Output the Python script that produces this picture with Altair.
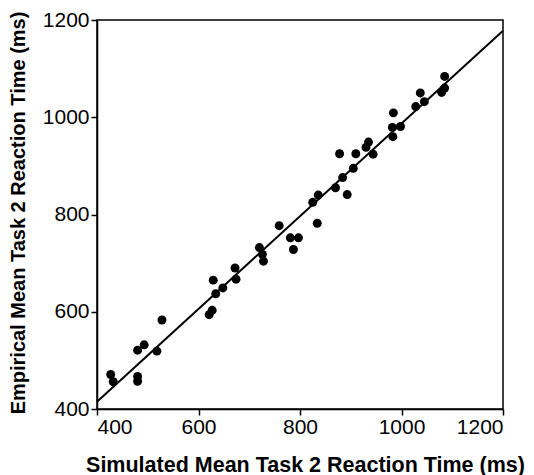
import altair as alt
import pandas as pd

# Simulated (x) vs empirical (y) mean Task 2 RT, ms
sim_rt = [427, 432, 480, 480, 480, 493, 518, 528, 621, 627, 629, 634, 648, 672, 674,
          720, 726, 728, 759, 781, 797, 787, 825, 836, 834, 870, 884, 893, 878, 905,
          910, 930, 935, 944, 984, 982, 983, 998, 1028, 1037, 1045, 1079, 1085, 1085]
emp_rt = [471, 456, 467, 457, 521, 532, 519, 583, 594, 603, 665, 637, 649, 690, 667,
          732, 718, 704, 777, 752, 752, 728, 825, 840, 782, 855, 876, 841, 925, 895,
          925, 938, 949, 924, 1009, 979, 960, 981, 1022, 1050, 1032, 1051, 1084, 1060]

fit_x = [400, 1200]
fit_y = [415, 1178]

ticks = [400, 600, 800, 1000, 1200]

pts = pd.DataFrame({"sim": sim_rt, "emp": emp_rt})
fit = pd.DataFrame({"sim": fit_x, "emp": fit_y})

W, H = 406, 389
FONT = "Liberation Sans"

xscale = alt.Scale(domain=[400, 1200], nice=False, zero=False)
yscale = alt.Scale(domain=[400, 1200], nice=False, zero=False)

xaxis = alt.Axis(values=ticks, format="d", grid=False, domainColor="black", domainWidth=1.5,
                 tickColor="black", tickWidth=1.5, tickSize=6, labelPadding=1,
                 labelFont=FONT, labelFontSize=21, labelColor="black",
                 title="Simulated Mean Task 2 Reaction Time (ms)",
                 titleFont=FONT, titleFontSize=21.5, titleFontWeight="bold",
                 titleColor="black", titleX=W / 2 + 5, titleY=56,
                 titleBaseline="middle", titleAlign="center")
yaxis = alt.Axis(values=ticks, format="d", grid=False, domainColor="black", domainWidth=1.5,
                 tickColor="black", tickWidth=1.5, tickSize=6, labelPadding=2,
                 labelFont=FONT, labelFontSize=21, labelColor="black",
                 title="Empirical Mean Task 2 Reaction Time (ms)",
                 titleFont=FONT, titleFontSize=20, titleFontWeight="bold",
                 titleColor="black", titleX=-79, titleY=H / 2 - 2, titleAngle=270,
                 titleBaseline="middle", titleAlign="center")

points = alt.Chart(pts).mark_circle(size=80, color="black", opacity=1).encode(
    x=alt.X("sim:Q", scale=xscale, axis=xaxis),
    y=alt.Y("emp:Q", scale=yscale, axis=yaxis),
)
line = alt.Chart(fit).mark_line(color="black", strokeWidth=2).encode(
    x=alt.X("sim:Q", scale=xscale),
    y=alt.Y("emp:Q", scale=yscale),
)

chart = (line + points).properties(
    width=W, height=H,
    autosize=alt.AutoSizeParams(type="none"),
    padding={"left": 97, "top": 20, "right": 31, "bottom": 66},
    background="white",
).configure_view(stroke="black", strokeWidth=1.5)

chart.save("out.html", embed_options={"renderer": "svg", "actions": False})
